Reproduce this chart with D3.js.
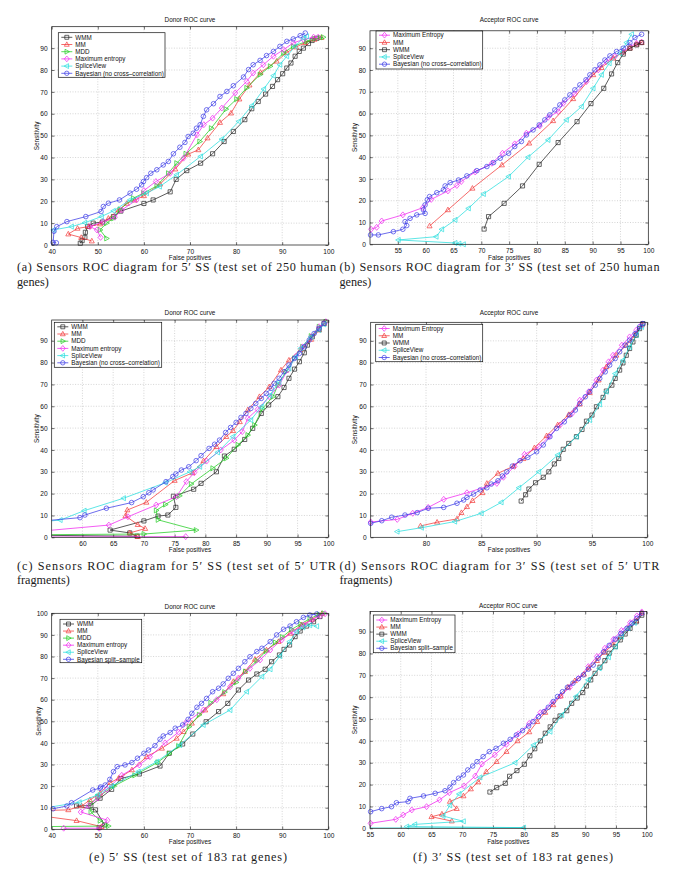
<!DOCTYPE html>
<html><head><meta charset="utf-8">
<script src="https://cdn.jsdelivr.net/npm/d3@7"></script>
<style>body{margin:0;background:#fff}svg{display:block}</style>
</head><body>
<svg id="c" width="685" height="886"></svg>
<script>
// ---------------- DATA ----------------
const xTicksA = [40,50,60,70,80,90,100];
const xTicksB = [55,60,65,70,75,80,85,90,95,100];
const xTicksC = [60,65,70,75,80,85,90,95,100];
const xTicksD = [80,85,90,95,100];
const xTicksE = [40,50,60,70,80,90,100];
const xTicksF = [55,60,65,70,75,80,85,90,95,100];
const yTicks90 = [0,10,20,30,40,50,60,70,80,90];
const yTicks100 = [0,10,20,30,40,50,60,70,80,90,100];

// (a) Donor, 250 human genes
const a_wmm = [[46.2,0.8],[46.6,2],[47.2,3.5],[47.3,5.8],[47.8,8.5],[49,10],[51,10.5],[53.4,13],[55,15.5],[60,19],[62,20.6],[65.7,24.3],[67,30],[69.3,34],[72.3,37.4],[74.9,41.7],[77.4,47.3],[79.4,51.9],[81.9,57.3],[83.4,62.3],[84.8,65.6],[86.4,69],[87.9,72.5],[89,75.6],[90.1,78.3],[91,80.9],[91.9,83.2],[92.8,86.3],[93.7,88.5],[94.6,90],[95.7,92.1],[96.5,93.5],[97.5,94.5]];
const a_mm = [[48.7,1.8],[46.4,3.4],[43.6,5],[45.6,7.6],[48,8.4],[50.5,9.6],[52.3,12.2],[54.5,16],[56.3,19],[58,20.5],[60,22.5],[63.5,27.8],[66.8,34.7],[69.6,41.5],[71.8,43.5],[73.8,48.9],[76.5,56],[78.9,60.3],[80.7,66.7],[82.9,73.1],[85.3,78.9],[88.8,84],[91,88],[93,90.5],[95,92.5],[97,94],[98.5,94.8]];
const a_mdd = [[51.9,3],[50.5,6.9],[51.9,10],[53.4,12.2],[54.8,16.3],[57.7,21.4],[59.9,23.7],[62.8,27],[65.3,32.8],[67.1,37.4],[69.1,41.7],[72.1,47.3],[74.6,53.4],[77.8,62.1],[80.1,66.7],[82.3,71.8],[85.2,77.9],[87.4,81.7],[90.3,87.8],[92.4,90.8],[95.3,93.1],[97,94.3],[98.2,94.7],[98.9,95]];
const a_me = [[50.6,3.5],[49.8,6.9],[48.3,8.4],[51.2,10.7],[53.7,12.7],[55.2,16],[58.4,20.6],[60,24.9],[62.6,29],[65.7,32.8],[68.6,39.7],[71.5,50.4],[73,55],[74.9,58],[76.9,62.6],[79.8,69.5],[82.3,74.8],[83.7,78.6],[85.9,82.4],[88.1,86.3],[90.3,89.3],[92.4,92.4],[94.6,93.9],[96.8,95],[97.8,95]];
const a_sv = [[40.4,6.9],[44.3,8.4],[47.2,10.2],[50.8,13],[53.4,15.6],[57,20.6],[60.6,23.7],[63.4,26.7],[67.1,32.1],[72.3,40.5],[76.9,48.4],[80.6,56.5],[83.4,63.7],[86,71.3],[88.1,77.4],[89.5,82.4],[91,86.3],[92.8,90.8],[94.6,94.7],[95.3,95.4]];
const a_bay = [[41,1],[40.3,1.2],[40.5,6.3],[41.1,8.4],[43.3,10.7],[47.4,13],[50.7,15.3],[51.2,17.6],[52.3,19.1],[54.7,20.6],[57,23.7],[58.4,25.5],[59.5,27.5],[59.9,29],[60.6,30.8],[61.5,32.8],[62.8,34.4],[64.2,36.6],[65.3,38.2],[66.4,41.7],[67.8,44.7],[68.9,46.9],[69.6,49.6],[70.7,51.1],[71.4,53.4],[72.2,55],[72.9,58.8],[73.6,61.8],[75.1,64.6],[76.5,67.9],[78,70.2],[79.4,72.8],[81.6,76.8],[82.7,80.2],[83.7,82.4],[85.2,84.4],[86.6,86.6],[88.1,88.5],[89.5,90.8],[91,93.1],[92.4,94.2],[93.9,95.7],[95,96.9]];

// (b) Acceptor, 250 human genes
const b_me = [[50.2,6.9],[51.2,7.8],[52.1,10.7],[55.9,13.5],[59.5,16.8],[61,20.6],[64,24.5],[65.6,27],[66.4,28.8],[68.9,33.2],[71.9,37.2],[73.8,41.8],[76,46.1],[78.1,51],[80.5,54.3],[82,58.3],[83.8,60.9],[84.7,64.7],[86.8,69],[88.9,74.7],[91,80.1],[92.5,83.9],[94,86.2],[95.5,88.5],[96.7,90.8],[97.9,92.3],[98.8,92.8]];
const b_mm = [[60.7,8.4],[64,15.8],[68.4,25.7],[73.7,36.4],[78.6,46.4],[82.9,56.7],[86.5,66.8],[90.1,77.8],[91.6,81.1],[93.7,85.4],[95.5,88.2],[96.7,90],[97.9,91.8],[98.8,92.6]];
const b_wmm = [[70.5,7],[71.3,12.7],[74.1,18.8],[77.4,26.8],[80.4,36.7],[83.8,46.7],[87.2,56.3],[89.7,64.6],[92,71.6],[93.4,78.2],[94.5,83.4],[95.5,87.3],[96.7,90],[97.9,91.5],[98.8,92.6]];
const b_sv = [[66.8,0],[66,0.3],[65.3,0.6],[55.1,2],[61.9,3.5],[62.9,6.9],[65.3,11.2],[67.7,16.5],[70.4,23.1],[74.9,31.1],[78.4,40],[82,47.9],[85.3,57.1],[88,63.2],[90.1,71.6],[91.6,77.8],[93,83.1],[94.9,87.7],[96.1,92.6],[97,96.4]];
const b_bay = [[50.1,4.3],[51.5,4.3],[54.2,5.8],[55.9,6.9],[56.6,8.6],[56.3,10.4],[57.2,11.9],[58.4,13.5],[59.9,14.2],[59.6,15.8],[59.9,18.1],[60.3,20.4],[60.7,21.9],[62,23.7],[63.2,25],[63.5,26.8],[64.4,28.3],[65.9,29.5],[67.4,31.4],[69.2,33.8],[71,35.7],[72.2,37.5],[73.4,39.5],[74.9,41.8],[76,44.9],[77.2,47.2],[78.1,50.2],[79.3,52.5],[80.4,54.8],[81.4,57.1],[82.3,59.4],[83.2,61.7],[84.1,64],[85,66.3],[85.9,68.6],[86.8,70.9],[87.7,73.2],[88.8,75.5],[89.5,77.8],[90.4,80.1],[91.3,82.4],[92.2,84.6],[93.1,86.5],[94.3,88.5],[95.5,90],[96.7,92.6],[97.6,94.9],[98.8,96.4]];

// (c) Donor, 5' UTR fragments
const c_wmm = [[54,0.9],[68.9,0.5],[67.7,2],[64.5,3.3],[70,7.5],[72.3,9.7],[73.9,10.2],[75.2,13.7],[74.8,18.8],[78.1,22],[79.3,24.7],[81.8,30],[83.1,37.2],[84.7,40.3],[86.4,44.8],[87.7,49.9],[89.1,56.7],[90.3,60.6],[91.8,64.4],[92.8,68.6],[93.6,72.8],[94.5,77],[95.3,80.4],[96.1,84.5],[96.6,88],[97.4,91.8],[98.5,95.2],[99.3,97.9]];
const c_mm = [[69,0.3],[67.7,2],[70.2,4],[69,5.8],[67,9.8],[67.3,12.5],[70.4,16],[75,26],[77.9,29.5],[79.7,35],[81.8,41.5],[83.4,46.1],[84.5,48.8],[85.6,52.9],[86.9,58.3],[88.8,64.4],[90.4,68.9],[92.3,76.6],[93.6,81.1],[95.5,86],[97.2,90.6],[98.5,94.9],[99.3,97.9]];
const c_mdd = [[54,1.2],[70,1.5],[78.5,3.3],[72.3,8],[72,12.3],[73.5,15],[75.8,19],[77.7,24.4],[81.2,31.6],[83.4,36.2],[85.3,42.3],[86.9,46.8],[88,51.4],[89.3,59],[91,64.4],[91.8,69.7],[93.1,75.8],[94.5,81.9],[95.8,87.2],[97.2,92.1],[98.5,96.4],[99.6,98.7]];
const c_me = [[76.8,0.3],[50,0.1],[50,2],[64.3,5.6],[67.4,9.4],[72,14.8],[75.3,18.6],[76.9,25.5],[78.2,29.6],[80.2,34.9],[82.5,40],[84.7,44.5],[86,48.4],[86.9,54.5],[88.5,58.6],[90.4,64.4],[92,69.7],[93.4,76.6],[94.7,82.7],[95.8,87.2],[97.2,91.8],[98.5,96.4],[99.6,98.7]];
const c_sv = [[54,7.3],[56.4,7.9],[60.3,12.2],[66.7,17.9],[73.5,25],[77.5,30],[79.1,32.3],[82,38.9],[84.5,46.1],[87.4,53.7],[89.1,59.8],[90.5,65],[92,71.2],[93.6,77.3],[94.7,82.7],[95.5,86.5],[97.2,91.8],[98.5,94.9],[99.3,97.5]];
const c_bay = [[54,7.6],[59.6,9],[60.4,10.2],[63.9,13.3],[68,15.9],[69.9,18.6],[70.8,20.4],[71.5,21.7],[73.6,25.5],[74.7,27.8],[75.2,29],[76.1,30.8],[77.3,32.3],[78.5,35.1],[79.3,37.4],[80.6,40.7],[81.5,42.6],[82.3,44.5],[83.3,48],[84.1,50.3],[85,52.6],[85.8,54.9],[86.6,56.7],[87.4,59],[88.2,61.3],[89.1,63.6],[89.9,65.9],[90.7,68.2],[91.2,70.5],[92,72.8],[92.8,75.8],[93.6,78.9],[94.5,81.9],[95.3,84.2],[96.1,87.2],[96.9,90.3],[97.7,93.3],[98.5,95.6],[99.3,97.9]];

// (d) Acceptor, 5' UTR fragments
const d_me = [[75,7],[77.4,8.2],[78.8,11],[80.2,13.7],[81.6,17.4],[83.7,20.4],[86.4,24.7],[87,27.5],[88,32.5],[88.9,38],[90.2,41.5],[91.1,46.1],[92.1,51.4],[93.2,56.7],[93.9,62.8],[94.7,66.7],[95.4,72],[96,76.6],[96.5,80.4],[96.9,83.4],[97.7,88],[98.4,91.8],[99,94.9],[99.5,97.5]];
const d_mm = [[79.5,5.2],[81,6.9],[82.8,8.4],[83.2,11.3],[83.7,14],[84.2,16.8],[85.1,20.4],[85.5,24.7],[86.5,29.3],[87.9,32.6],[88.8,36],[89.8,41],[90.9,46.5],[91.9,51.5],[92.9,56.2],[93.9,61],[94.8,66.3],[95.6,72],[96.3,78.1],[97.2,83.4],[98.1,88],[98.9,92.6],[99.5,97.2]];
const d_wmm = [[88.6,16.6],[89,19.5],[89.3,22.1],[89.9,25],[90.6,27.5],[91.1,30],[91.6,33.6],[92,36.1],[92.4,40.3],[92.9,43],[93.6,46.1],[94.1,49.4],[94.5,53.2],[95,56],[95.4,59.8],[96,64.1],[96.3,67],[96.8,69.7],[97.1,72.8],[97.5,76.6],[97.8,79.9],[98.1,83.4],[98.4,86.5],[98.7,89.5],[99,92.6],[99.3,95.6],[99.6,97.9]];
const d_sv = [[77.4,2.6],[79.6,4.4],[82.6,7.2],[85,11],[86.8,16],[88.4,22.7],[90.2,30],[91.9,37.7],[93.6,46.1],[94.8,53.7],[95.7,60.9],[96.3,66.7],[97.1,75],[97.8,81.1],[98.4,87.2],[99,92.6],[99.5,96.4]];
const d_bay = [[75,6.4],[76,7.6],[76.9,9.2],[78.1,10.2],[79.2,11.3],[80.2,13.3],[81.6,13.7],[82.8,15.6],[83.4,17.1],[83.7,18.3],[84.3,19.8],[84.9,21.7],[85.5,22.7],[85.9,24.4],[86.5,25.9],[86.9,28.1],[87.3,30],[87.8,32.6],[88.5,35.1],[89.2,36.6],[90,39.2],[90.6,42.3],[91.2,46.1],[91.8,49.9],[92.5,52.9],[93,56],[93.5,58.3],[93.9,61.3],[94.4,64.4],[94.8,66.7],[95.3,69.7],[95.7,72.8],[96.2,75.8],[96.6,78.9],[97.1,81.9],[97.5,85],[98,88],[98.4,90.3],[98.9,93.3],[99.3,96.4],[99.6,97.9]];

// (e) Donor, 183 rat genes
const e_wmm = [[50.3,0.8],[51.5,2],[49.5,9],[45.4,10.8],[48.5,11],[50.5,14.4],[53,18.5],[55,23.5],[59,25.6],[63.5,29.3],[65.5,35.2],[68.4,39.5],[70.6,44.1],[73.5,49.8],[76.2,54.5],[78.2,58.3],[80.5,64.5],[82.7,69.1],[84.5,71.9],[86.3,74.1],[87.7,77.6],[89.4,80.7],[90.4,83.3],[91.6,85.3],[92.8,89.2],[93.9,91.8],[95.3,94.1],[96.8,96.1],[98.2,98.5]];
const e_mm = [[50.8,1.2],[45.4,4],[35,7],[35,8.5],[43.6,9],[46.5,10.8],[48.3,13.6],[50.5,16.7],[52.7,21.6],[54.5,23.6],[57.4,27.5],[60.6,33.6],[63.9,37.5],[67.1,42.1],[68.6,45.2],[70.4,49.1],[73.3,55.2],[77.2,62.7],[79.4,68.4],[81.9,73],[84.1,78.7],[86.6,83],[89.2,86.9],[91.7,90.7],[94.2,94.6],[96.4,97.2],[98.6,99.8]];
const e_mdd = [[35,1.2],[52.3,1.5],[50.5,4],[48.5,8],[48.5,12],[50,15],[53.5,20],[58,25],[63,31],[65.5,35],[67.5,38.5],[69.8,47.5],[72,53],[74.5,58.5],[77.5,63.5],[80,68],[82,73],[84.5,78],[86.5,82.5],[88.5,86.5],[90,89],[92,92.5],[94,95],[96,97.5],[98,99.5],[99,100]];
const e_me = [[42.6,0.5],[50.3,0.5],[52.1,4.2],[46.3,8],[48,11],[50,14.5],[52,18.5],[55.2,25],[59,29.8],[61.3,33.6],[64.6,40],[67.5,45],[69.1,49.4],[72.9,55.2],[75.8,60],[78.7,66],[80.5,70],[83,74.5],[85.2,78.4],[87.4,83],[89.9,87.7],[92.4,91.5],[94.6,94.6],[96.4,96.9],[98.2,98.8],[99.3,99.8]];
const e_sv = [[36,9],[46,12.5],[50,16],[53,20],[58.8,26.7],[62.8,31.3],[67.8,39],[72.9,48.3],[78.7,55.2],[82.3,63.7],[85.6,70.7],[87.4,74.1],[89.5,80.2],[91.6,86.9],[93.1,91.5],[94.5,93.5],[96,94.5],[97.5,94]];
const e_bay = [[40.3,9.5],[43.3,10.8],[44.3,12.3],[48.9,18.2],[50.5,19],[50.6,19.6],[51.6,20.5],[52.6,23.1],[53.4,26.7],[54.2,29],[55.9,29.8],[57.4,30.9],[58.6,32.9],[60,35.2],[61,36.7],[62.4,38.7],[63.5,41.7],[64.2,43.2],[65.7,44.8],[66.8,46.8],[68.4,48.3],[69.6,50.9],[70.4,53.7],[71.5,56.5],[72.5,58.3],[73.6,60.6],[74.9,63.7],[76.2,65.3],[77.2,67.3],[78.3,69.9],[79.4,72.2],[80.5,74.5],[81.9,77.6],[83,79.9],[84.5,82.3],[85.6,83.8],[87.4,86.9],[88.8,90],[90.3,92.6],[91.7,94.1],[93.1,96.1],[94.6,98.1],[96,99.2],[97.5,99.7]];

// (f) Acceptor, 183 rat genes
const f_me = [[55.1,2.3],[59.2,4.1],[60.4,6.1],[61.8,8.4],[64.2,9.9],[66.3,13],[67.9,16.3],[70.3,19.4],[72.1,23.9],[73.2,29.4],[75.3,33.6],[77.2,38.4],[79.1,43.2],[80.9,48],[82.7,52.9],[84.6,57.2],[86,60.6],[87.5,64.5],[88.9,68.6],[90.5,74],[91.9,78.6],[93.2,82.4],[94.6,86.5],[95.9,90.5],[97.3,94.1],[98.4,97.2],[99.2,99]];
const f_mm = [[68.3,3.3],[65,5.3],[66.7,6.5],[69.1,9],[68,12.3],[70.2,14.8],[71.4,18],[72.6,21.2],[73.9,25.9],[75.6,30.5],[77.2,35.1],[79,40],[80.9,44.1],[82.2,48.8],[83.5,53],[84.8,56.5],[86,60.5],[87.2,64.6],[88.3,67.5],[89.8,70.5],[90.6,73.3],[91.9,76.7],[93.1,80.5],[94.5,84],[95.7,87.5],[97,91.5],[98.3,95],[99.2,98.5]];
const f_wmm = [[74.5,16.6],[75.6,18.6],[77,20.6],[77.7,23.8],[78.9,26.4],[80.1,29.3],[81,33.2],[81.8,36.4],[82.7,40],[83.5,43.5],[84.3,46.4],[85.1,49.4],[85.9,51.4],[87,53.8],[87.8,57.2],[88.7,59.6],[89.6,62.1],[90.2,65.1],[90.9,67.9],[91.6,70.9],[92.4,73.7],[93.2,76.7],[93.9,80.1],[94.9,83.1],[95.7,86.2],[96.5,88.9],[97.3,91.5],[98.3,94.5],[99.2,97.5]];
const f_sv = [[50,0.1],[80,0.3],[61,0.8],[62.3,1.8],[70.2,3.2],[66.9,5.6],[68,10.5],[69.5,15.7],[72.9,23.3],[78.6,30],[81.6,38.1],[84.3,44.2],[86.2,51.9],[88.5,60.3],[90.5,67.9],[92.3,73.2],[93.8,78.3],[94.9,83.1],[95.9,87.7],[97,91.5],[98,94]];
const f_bay = [[55.1,7.6],[56.9,9],[58.5,9.9],[59.3,11.7],[61.2,12.2],[61.5,13.7],[63.7,14.8],[65.6,16],[67.2,17.2],[68,18.8],[68.6,20.9],[69.4,22.9],[70.2,24.4],[70.9,26.7],[71.7,28.5],[72.4,30.5],[73.4,32.8],[74.4,35.1],[75.5,36.6],[76.7,38.9],[77.8,40.7],[78.8,42.7],[79.8,44.7],[80.8,46.8],[81.5,48.8],[82.4,51.1],[83.3,53.4],[84,55.4],[84.8,58],[85.5,60.3],[86.3,62.5],[87.1,64.5],[88,66.4],[88.9,68.5],[89.7,70.2],[90.5,72.8],[91.3,74.7],[92.1,77.8],[93,80.8],[93.9,83.7],[94.9,86.5],[95.8,89.2],[96.8,91.5],[97.6,93.8],[98.4,96.1],[99.2,98.4]];

const titles = ["Donor ROC curve","Acceptor ROC curve","Donor ROC curve","Acceptor ROC curve","Donor ROC curve","Acceptor ROC curve"];
const captionLines = [
  ["(a) Sensors ROC diagram for 5\u2032 SS (test set of 250 human","genes)"],
  ["(b) Sensors ROC diagram for 3\u2032 SS (test set of 250 human","genes)"],
  ["(c) Sensors ROC diagram for 5\u2032 SS (test set of 5\u2032 UTR","fragments)"],
  ["(d) Sensors ROC diagram for 3\u2032 SS (test set of 5\u2032 UTR","fragments)"],
  ["(e) 5\u2032 SS (test set of 183 rat genes)"],
  ["(f) 3\u2032 SS (test set of 183 rat genes)"]
];

// ---------------- STYLE ----------------
const style = {
  "WMM": {color:"#262626", m:"square"},
  "MM": {color:"#f23a3a", m:"triUp"},
  "MDD": {color:"#22cc22", m:"triRight"},
  "ME": {color:"#f025f0", m:"diamond"},
  "SV": {color:"#28dede", m:"triLeft"},
  "BAY": {color:"#3b3be6", m:"circle"}
};
function sym(t, r){
  switch(t){
    case "square": return `M${-r*0.9},${-r*0.9}H${r*0.9}V${r*0.9}H${-r*0.9}Z`;
    case "circle": return `M${r},0A${r},${r} 0 1,1 ${-r},0A${r},${r} 0 1,1 ${r},0Z`;
    case "triUp": return `M0,${-r*1.2}L${r*1.1},${r*0.8}L${-r*1.1},${r*0.8}Z`;
    case "triRight": return `M${r*1.2},0L${-r*0.8},${r*1.1}L${-r*0.8},${-r*1.1}Z`;
    case "triLeft": return `M${-r*1.2},0L${r*0.8},${r*1.1}L${r*0.8},${-r*1.1}Z`;
    case "diamond": return `M0,${-r*1.3}L${r*1.1},0L0,${r*1.3}L${-r*1.1},0Z`;
  }
}

const panels = [
  {rect:[51.7,26.7,328.3,245], xd:[40,100], xt:xTicksA, ymax:99.8, yt:yTicks90, ylab:37, xlabY:259.5, titleY:22,
   legend:{box:[58.3,32.7,165,77.3], y0:37.3, dy:7.2},
   series:[["WMM",a_wmm,"WMM"],["MM",a_mm,"MM"],["MDD",a_mdd,"MDD"],["Maximum entropy",a_me,"ME"],["SpliceView",a_sv,"SV"],["Bayesian (no cross\u2013correlation)",a_bay,"BAY"]]},
  {rect:[370,30.8,648.3,244.3], xd:[50,100], xt:xTicksB, ymax:98, yt:yTicks90, ylab:355, xlabY:259.5, titleY:21.5,
   legend:{box:[376,31,482.7,69], y0:35.2, dy:7.25},
   series:[["Maximum Entropy",b_me,"ME"],["MM",b_mm,"MM"],["WMM",b_wmm,"WMM"],["SpliceView",b_sv,"SV"],["Bayesian (no cross\u2013correlation)",b_bay,"BAY"]]},
  {rect:[51.7,320,328.3,537.3], xd:[55,100], xt:xTicksC, ymax:99.5, yt:yTicks90, ylab:37, xlabY:552, titleY:315,
   legend:{box:[54.3,322.3,161.7,367.3], y0:326.8, dy:7.2},
   series:[["WMM",c_wmm,"WMM"],["MM",c_mm,"MM"],["MDD",c_mdd,"MDD"],["Maximum entropy",c_me,"ME"],["SpliceView",c_sv,"SV"],["Bayesian (no cross\u2013correlation)",c_bay,"BAY"]]},
  {rect:[370.7,322.3,647.3,537.3], xd:[75,100], xt:xTicksD, ymax:98.5, yt:yTicks90, ylab:355, xlabY:552, titleY:315,
   legend:{box:[375.7,324.3,482.7,361.7], y0:328.5, dy:7.25},
   series:[["Maximum Entropy",d_me,"ME"],["MM",d_mm,"MM"],["WMM",d_wmm,"WMM"],["SpliceView",d_sv,"SV"],["Bayesian (no cross\u2013correlation)",d_bay,"BAY"]]},
  {rect:[51.7,613.3,328.3,829.3], xd:[40,100], xt:xTicksE, ymax:100, yt:yTicks100, ylab:38.3, xlabY:844, titleY:609,
   legend:{box:[60,619.3,141.7,662.7], y0:624, dy:7.06},
   series:[["WMM",e_wmm,"WMM"],["MM",e_mm,"MM"],["MDD",e_mdd,"MDD"],["Maximum entropy",e_me,"ME"],["SpliceView",e_sv,"SV"],["Bayesian split\u2013sample",e_bay,"BAY"]]},
  {rect:[370,611.5,646.7,828.3], xd:[55,100], xt:xTicksF, ymax:99.2, yt:yTicks90, ylab:355, xlabY:844, titleY:607.5,
   legend:{box:[373.3,615,455,652.7], y0:620, dy:7.07},
   series:[["Maximum Entropy",f_me,"ME"],["MM",f_mm,"MM"],["WMM",f_wmm,"WMM"],["SpliceView",f_sv,"SV"],["Bayesian split\u2013sample",f_bay,"BAY"]]}
];
const captionPos = [
  {x:17, y:[271,285.5], len:319},
  {x:339.5, y:[271,285.5], len:320},
  {x:17, y:[570,584], len:319},
  {x:339.5, y:[570,584], len:320},
  {cx:188, y:[861], len:198},
  {cx:513, y:[861], len:200}
];

// ---------------- DRAW ----------------
const svg = d3.select("#c");
const SANS = "'Liberation Sans', Arial, Helvetica, sans-serif";
const defs = svg.append("defs");

panels.forEach((p, i) => {
  const [l,t,r,b] = p.rect;
  const x = d3.scaleLinear().domain(p.xd).range([l,r]);
  const y = d3.scaleLinear().domain([0,p.ymax]).range([b,t]);
  const g = svg.append("g");
  defs.append("clipPath").attr("id","cl"+i).append("rect").attr("x",l).attr("y",t).attr("width",r-l).attr("height",b-t);

  // grid
  g.selectAll(null).data(p.xt.filter(v => v > p.xd[0] + 0.01 && v < p.xd[1] - 0.01)).join("line")
    .attr("x1", d => x(d)).attr("x2", d => x(d)).attr("y1", t).attr("y2", b)
    .attr("stroke","#b8b8b8").attr("stroke-width",0.6).attr("stroke-dasharray","1,1.6");
  g.selectAll(null).data(p.yt.filter(v => v > 0.01 && v < p.ymax - 0.01)).join("line")
    .attr("y1", d => y(d)).attr("y2", d => y(d)).attr("x1", l).attr("x2", r)
    .attr("stroke","#b8b8b8").attr("stroke-width",0.6).attr("stroke-dasharray","1,1.6");

  // axes
  const styleAxis = sel => {
    sel.select(".domain").remove();
    sel.selectAll("line").attr("stroke","#111").attr("stroke-width",0.6);
    sel.selectAll("text").attr("font-family",SANS).attr("font-size",6.6).attr("fill","#111");
  };
  g.append("g").attr("transform",`translate(0,${b})`)
    .call(d3.axisBottom(x).tickValues(p.xt).tickSize(-2.8).tickPadding(4).tickFormat(d3.format("d"))).call(styleAxis);
  g.append("g").attr("transform",`translate(0,${t})`)
    .call(d3.axisTop(x).tickValues(p.xt).tickSize(-2.8).tickFormat("")).call(styleAxis);
  g.append("g").attr("transform",`translate(${l},0)`)
    .call(d3.axisLeft(y).tickValues(p.yt).tickSize(-2.8).tickPadding(4).tickFormat(d3.format("d"))).call(styleAxis);
  g.append("g").attr("transform",`translate(${r},0)`)
    .call(d3.axisRight(y).tickValues(p.yt).tickSize(-2.8).tickFormat("")).call(styleAxis);

  // series
  const line = d3.line().x(d => x(d[0])).y(d => y(d[1]));
  const inDom = d => d[0] >= p.xd[0] - 0.05 && d[0] <= p.xd[1] + 0.05 && d[1] >= -0.05 && d[1] <= p.ymax + 0.5;
  p.series.forEach(([name, data, key]) => {
    const st = style[key];
    g.append("path").attr("d", line(data)).attr("fill","none").attr("stroke",st.color)
      .attr("stroke-width",0.75).attr("clip-path",`url(#cl${i})`);
    g.selectAll(null).data(data.filter(inDom)).join("path")
      .attr("d", sym(st.m, 2.3)).attr("transform", d => `translate(${x(d[0])},${y(d[1])})`)
      .attr("fill","none").attr("stroke",st.color).attr("stroke-width",0.7);
  });

  // box
  g.append("rect").attr("x",l).attr("y",t).attr("width",r-l).attr("height",b-t)
    .attr("fill","none").attr("stroke","#111").attr("stroke-width",0.7);

  // title & labels
  g.append("text").attr("x",(l+r)/2).attr("y",p.titleY).attr("text-anchor","middle")
    .attr("font-family",SANS).attr("font-size",6.4).attr("fill","#111").text(titles[i]);
  g.append("text").attr("x",(l+r)/2).attr("y",p.xlabY).attr("text-anchor","middle")
    .attr("font-family",SANS).attr("font-size",6.4).attr("fill","#111").text("False positives");
  g.append("text").attr("transform",`translate(${p.ylab},${(t+b)/2}) rotate(-90)`).attr("text-anchor","middle")
    .attr("dy","0.35em").attr("font-family",SANS).attr("font-size",6.4).attr("fill","#111").text("Sensitivity");

  // legend
  const L = p.legend, [bx,by,bx2,by2] = L.box;
  const lg = g.append("g");
  lg.append("rect").attr("x",bx).attr("y",by).attr("width",bx2-bx).attr("height",by2-by)
    .attr("fill","#fff").attr("stroke","#111").attr("stroke-width",0.7);
  p.series.forEach(([name, data, key], k) => {
    const st = style[key], yy = L.y0 + k*L.dy;
    lg.append("line").attr("x1",bx+3).attr("x2",bx+14).attr("y1",yy).attr("y2",yy)
      .attr("stroke",st.color).attr("stroke-width",0.75);
    lg.append("path").attr("d",sym(st.m,2.2)).attr("transform",`translate(${bx+8.5},${yy})`)
      .attr("fill","none").attr("stroke",st.color).attr("stroke-width",0.7);
    lg.append("text").attr("x",bx+17).attr("y",yy).attr("dy","0.35em")
      .attr("font-family",SANS).attr("font-size",6.3).attr("fill","#111").text(name);
  });

  // caption
  const cp = captionPos[i];
  captionLines[i].forEach((txt, k) => {
    const tx = svg.append("text").attr("y", cp.y[k]).attr("font-family","'Liberation Serif','Times New Roman',serif")
      .attr("font-size",12.2).attr("fill","#1a1a1a").text(txt);
    if (cp.cx !== undefined) {
      tx.attr("x",cp.cx).attr("text-anchor","middle").attr("textLength",cp.len).attr("lengthAdjust","spacing");
    } else {
      tx.attr("x",cp.x);
      if (k === 0) tx.attr("textLength",cp.len).attr("lengthAdjust","spacing");
    }
  });
});
</script>
</body></html>
